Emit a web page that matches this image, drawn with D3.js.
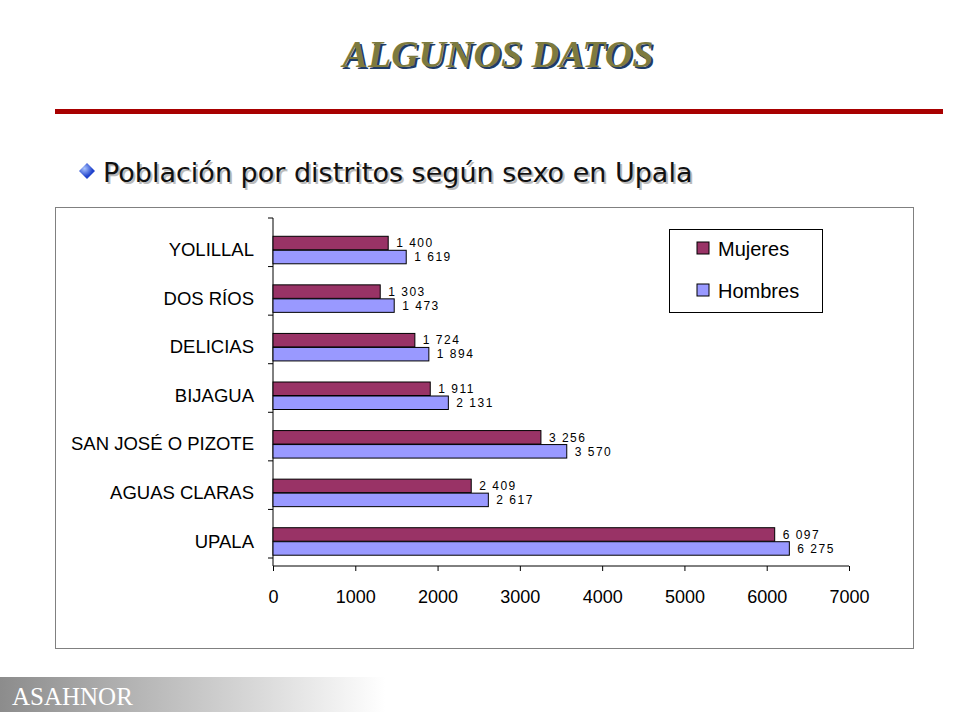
<!DOCTYPE html>
<html><head><meta charset="utf-8">
<script src="https://cdn.jsdelivr.net/npm/d3@7"></script>
<style>body{margin:0;background:#fff}</style></head>
<body><svg id="c" width="960" height="720"></svg>
<script>
const categories = ["YOLILLAL","DOS RÍOS","DELICIAS","BIJAGUA","SAN JOSÉ O PIZOTE","AGUAS CLARAS","UPALA"];
const mujeres = [1400,1303,1724,1911,3256,2409,6097];
const hombres = [1619,1473,1894,2131,3570,2617,6275];
const ticks = [0,1000,2000,3000,4000,5000,6000,7000];
const seriesNames = ["Mujeres","Hombres"];
const colors = ["#993366","#9999ff"];

const svg = d3.select("#c");
const defs = svg.append("defs");
const g1 = defs.append("linearGradient").attr("id","foot");
g1.append("stop").attr("offset","0").attr("stop-color","#8c8c8c");
g1.append("stop").attr("offset","1").attr("stop-color","#ffffff");
const rg = defs.append("radialGradient").attr("id","dia").attr("cx","35%").attr("cy","35%");
rg.append("stop").attr("offset","0").attr("stop-color","#aac4ff");
rg.append("stop").attr("offset","1").attr("stop-color","#2244cc");

// title
svg.append("text").attr("x",500).attr("y",69).attr("text-anchor","middle")
 .attr("font-family","Liberation Serif").attr("font-weight","bold").attr("font-style","italic")
 .attr("font-size",38).attr("fill","#1f3b66").text("ALGUNOS DATOS");
svg.append("text").attr("x",498).attr("y",67).attr("text-anchor","middle")
 .attr("font-family","Liberation Serif").attr("font-weight","bold").attr("font-style","italic")
 .attr("font-size",38).attr("fill","#7d7a3e").text("ALGUNOS DATOS");
svg.append("rect").attr("x",55).attr("y",109).attr("width",888).attr("height",5).attr("fill","#a80000");

// subtitle
svg.append("path").attr("d","M87,163 L95,171 L87,179 L79,171 Z").attr("fill","url(#dia)");
svg.append("text").attr("x",105).attr("y",184).attr("font-family","DejaVu Sans").attr("font-size",27)
 .attr("fill","#bbb").text("Población por distritos según sexo en Upala");
svg.append("text").attr("x",103).attr("y",182).attr("font-family","DejaVu Sans").attr("font-size",27)
 .attr("fill","#111").text("Población por distritos según sexo en Upala");

// footer
svg.append("rect").attr("x",0).attr("y",677).attr("width",385).attr("height",35).attr("fill","url(#foot)");
svg.append("text").attr("x",12).attr("y",705).attr("font-family","Liberation Serif").attr("font-size",25)
 .attr("fill","#fff").text("ASAHNOR");

// chart frame
svg.append("rect").attr("x",55.5).attr("y",207.5).attr("width",858).attr("height",441)
 .attr("fill","#fff").attr("stroke","#808080");

const x = d3.scaleLinear().domain([0,7000]).range([273,849]);
const y = d3.scaleBand().domain(categories).range([226,566]);
const inner = d3.scaleBand().domain(seriesNames).range([0,28]);

const g = svg.append("g");
const xAxis = g.append("g").attr("transform","translate(0,566)")
 .call(d3.axisBottom(x).tickValues(ticks).tickSize(5).tickFormat(d=>d));
xAxis.selectAll("text").attr("font-family","Liberation Sans").attr("font-size",18).attr("fill","#000").attr("dy","1.6em");
xAxis.select(".domain").attr("d","M273,0H849");
const yAxis = g.append("g").attr("transform","translate(273,0)")
 .call(d3.axisLeft(y).tickSize(0).tickPadding(19));
yAxis.selectAll("text").attr("font-family","Liberation Sans").attr("font-size",18.5).attr("fill","#000");
yAxis.select(".domain").attr("d","M0,218V566");
yAxis.selectAll(".bd").data(d3.range(categories.length+1)).enter().append("line").attr("class","bd")
 .attr("x1",-5).attr("x2",0).attr("y1",i=>226+i*y.step()-8).attr("y2",i=>226+i*y.step()-8).attr("stroke","#000");

[mujeres,hombres].forEach((vals,si)=>{
  const off = y.bandwidth()/2-14;
  g.selectAll(".b"+si).data(vals).enter().append("rect")
   .attr("x",x(0)).attr("y",(d,i)=>y(categories[i])+off+inner(seriesNames[si]))
   .attr("width",d=>x(d)-x(0)).attr("height",13.5)
   .attr("fill",colors[si]).attr("stroke","#000").attr("stroke-width",1);
  g.selectAll(".l"+si).data(vals).enter().append("text")
   .attr("x",d=>x(d)+8).attr("y",(d,i)=>y(categories[i])+off+inner(seriesNames[si])+11)
   .attr("font-family","Liberation Sans").attr("font-size",12).attr("letter-spacing",1.5)
   .text(d=>d3.format(",")(d).replace(","," "));
});

// legend
const lg = svg.append("g");
lg.append("rect").attr("x",669.5).attr("y",229.5).attr("width",153).attr("height",83).attr("fill","#fff").attr("stroke","#000");
seriesNames.forEach((s,i)=>{
  lg.append("rect").attr("x",697).attr("y",242+i*42).attr("width",12).attr("height",12).attr("fill",colors[i]).attr("stroke","#000");
  lg.append("text").attr("x",718).attr("y",256+i*42).attr("font-family","Liberation Sans").attr("font-size",20).text(s);
});
</script></body></html>
